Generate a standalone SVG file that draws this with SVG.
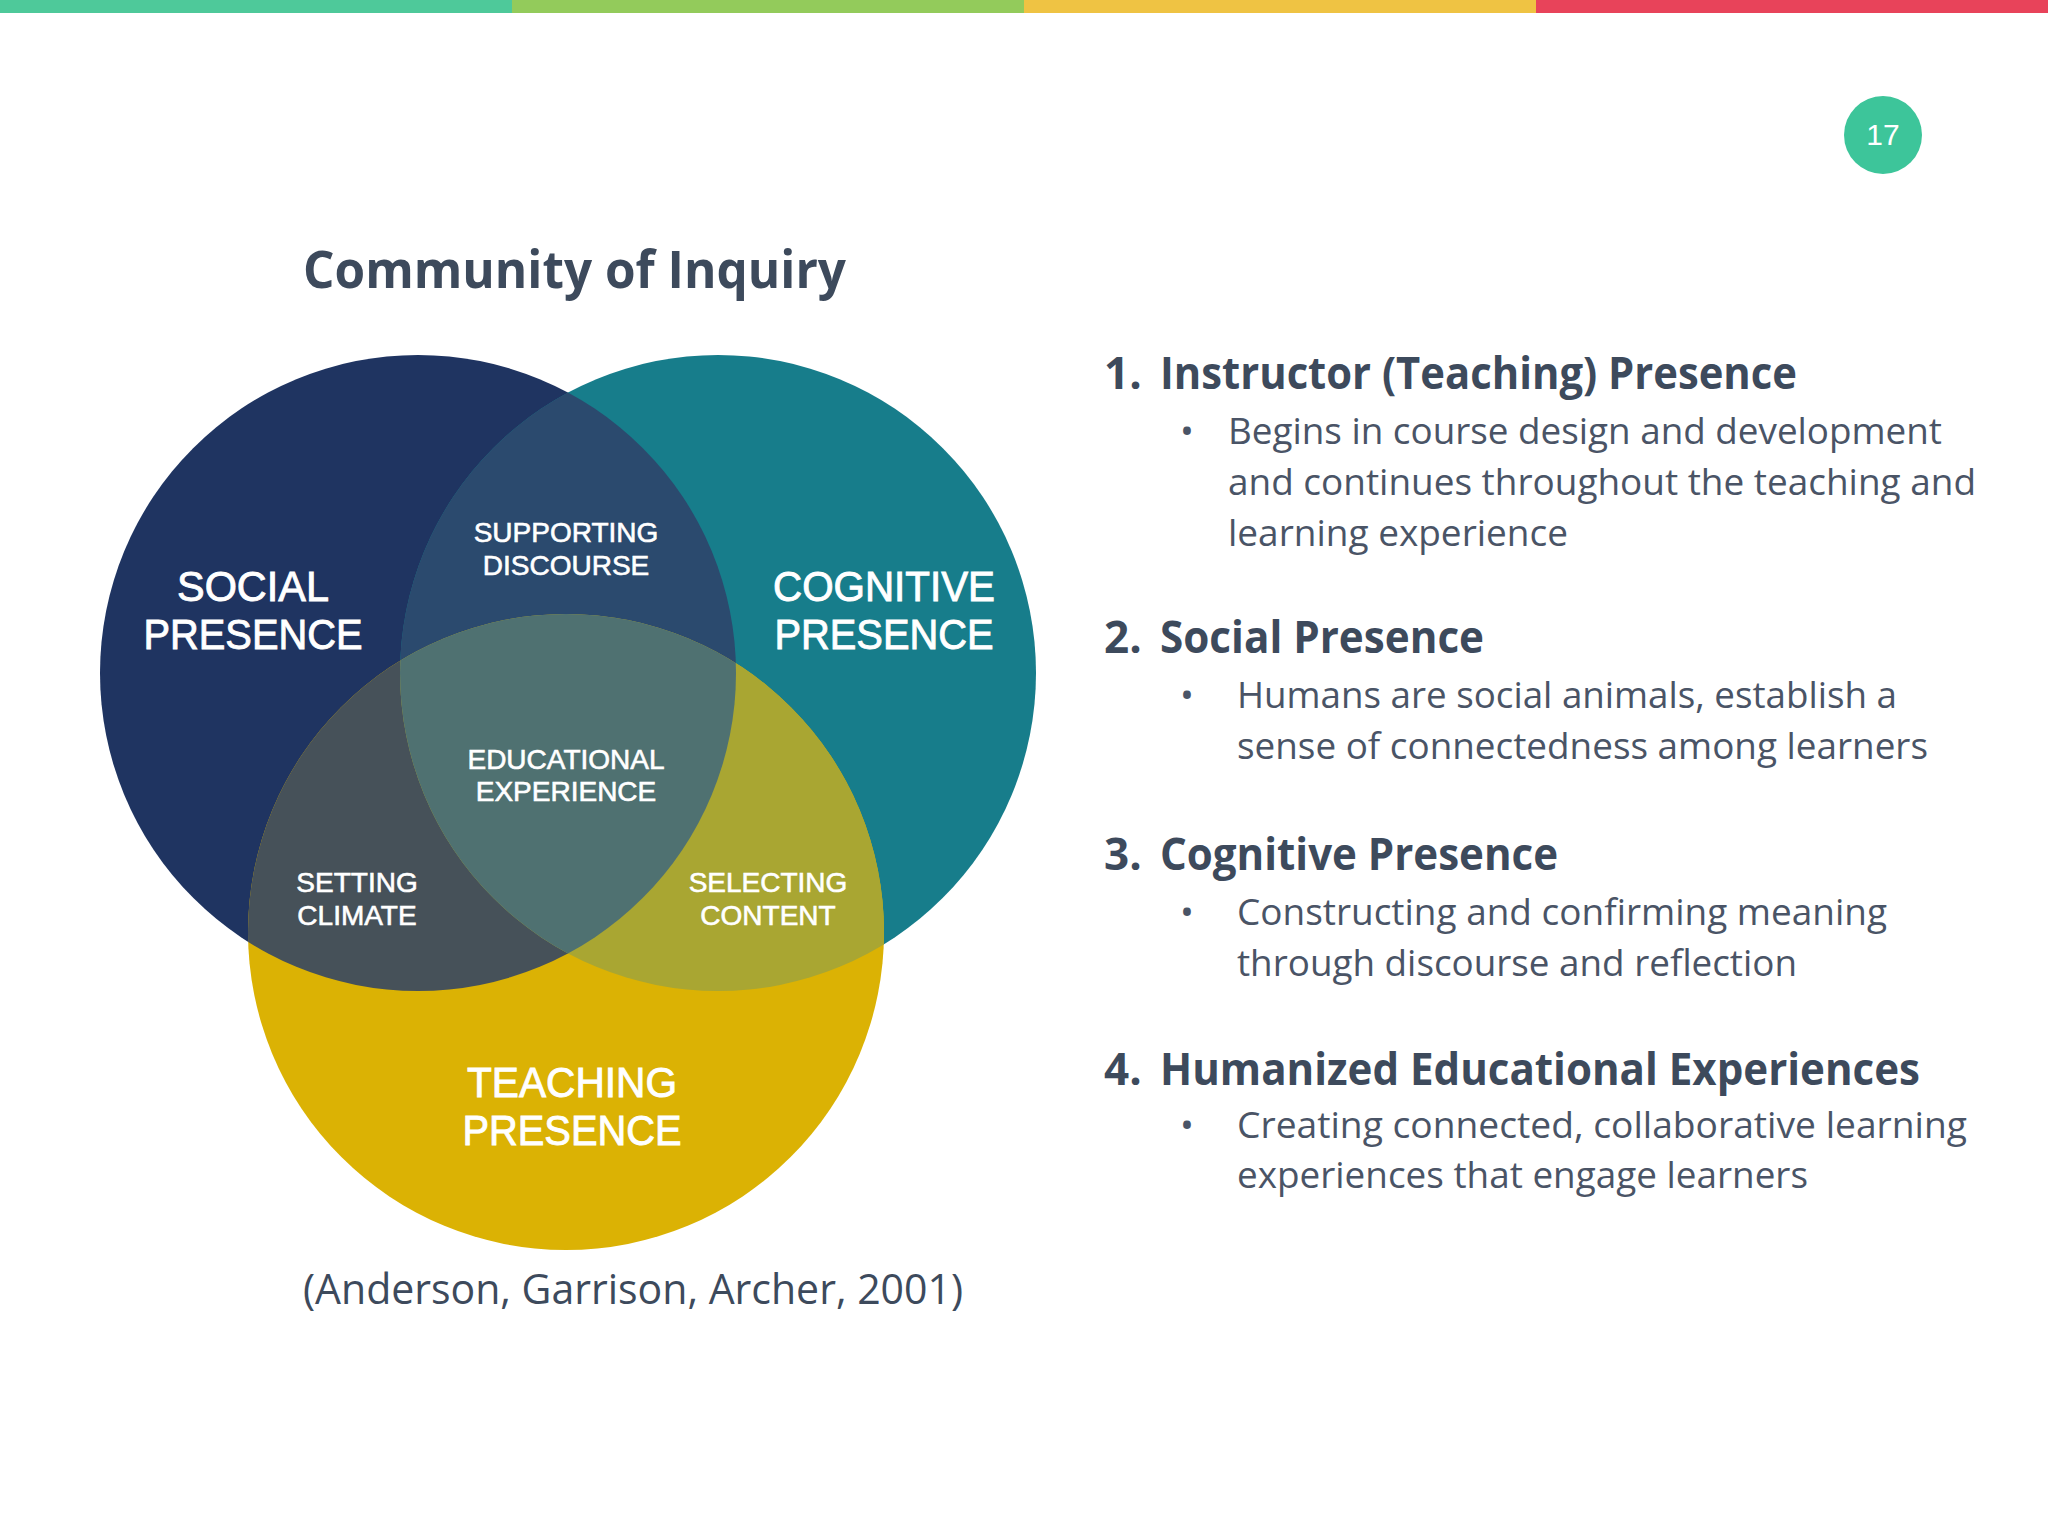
<svg xmlns="http://www.w3.org/2000/svg" width="2048" height="1536" viewBox="0 0 2048 1536">
<style>
.vt{font-family:"Liberation Sans",Arial,sans-serif;fill:#fff;stroke:#fff;text-anchor:middle}
.big{font-size:42px;stroke-width:0.9}
.sm{font-size:28px;stroke-width:0.6}
.h{font-family:"Open Sans","Noto Sans",sans-serif;font-weight:bold;font-size:44px;fill:#3d4a5c}
.b{font-family:"Open Sans","Noto Sans",sans-serif;font-size:37px;fill:#4a5466}
</style>
<defs>
<clipPath id="cS"><circle cx="418" cy="673" r="318"/></clipPath>
<clipPath id="cC"><circle cx="718" cy="673" r="318"/></clipPath>
</defs>
<rect width="2048" height="1536" fill="#fff"/>
<rect x="0" y="0" width="512" height="13" fill="#4ec99a"/>
<rect x="512" y="0" width="512" height="13" fill="#93cb5b"/>
<rect x="1024" y="0" width="512" height="13" fill="#efc343"/>
<rect x="1536" y="0" width="512" height="13" fill="#e8435a"/>
<g id="page"><circle cx="1883" cy="135" r="39" fill="#3dc59a"/>
<text x="1883" y="145" font-family="Liberation Sans,sans-serif" font-size="30" fill="#fff" text-anchor="middle">17</text></g>
<text x="303" y="288" font-family="Open Sans,Noto Sans,sans-serif" font-weight="bold" font-size="52" fill="#3d4a5c" textLength="543" lengthAdjust="spacingAndGlyphs">Community of Inquiry</text>
<g id="venn">
<circle cx="418" cy="673" r="318" fill="#1f3461"/>
<circle cx="718" cy="673" r="318" fill="#177d8b"/>
<circle cx="566" cy="932" r="318" fill="#dbb204"/>
<circle cx="718" cy="673" r="318" fill="#2b4a6e" clip-path="url(#cS)"/>
<circle cx="566" cy="932" r="318" fill="#465159" clip-path="url(#cS)"/>
<circle cx="566" cy="932" r="318" fill="#a9a632" clip-path="url(#cC)"/>
<g clip-path="url(#cS)"><circle cx="566" cy="932" r="318" fill="#4f7171" clip-path="url(#cC)"/></g>
</g>
<g id="labels">
<text class="vt big" x="253" y="601" textLength="152" lengthAdjust="spacingAndGlyphs">SOCIAL</text><text class="vt big" x="253" y="649" textLength="219" lengthAdjust="spacingAndGlyphs">PRESENCE</text>
<text class="vt big" x="884" y="601" textLength="222" lengthAdjust="spacingAndGlyphs">COGNITIVE</text><text class="vt big" x="884" y="649" textLength="219" lengthAdjust="spacingAndGlyphs">PRESENCE</text>
<text class="vt big" x="572" y="1097" textLength="210" lengthAdjust="spacingAndGlyphs">TEACHING</text><text class="vt big" x="572" y="1145" textLength="219" lengthAdjust="spacingAndGlyphs">PRESENCE</text>
<text class="vt sm" x="566" y="542">SUPPORTING</text><text class="vt sm" x="566" y="575">DISCOURSE</text>
<text class="vt sm" x="566" y="769">EDUCATIONAL</text><text class="vt sm" x="566" y="801">EXPERIENCE</text>
<text class="vt sm" x="357" y="892">SETTING</text><text class="vt sm" x="357" y="925">CLIMATE</text>
<text class="vt sm" x="768" y="892">SELECTING</text><text class="vt sm" x="768" y="925">CONTENT</text>
</g>
<text x="303" y="1304" font-family="Open Sans,Noto Sans,sans-serif" font-size="42" fill="#3d4a5c" textLength="660" lengthAdjust="spacingAndGlyphs">(Anderson, Garrison, Archer, 2001)</text>
<g id="list">
<text class="h" x="1104" y="389">1.</text><text class="h" x="1160" y="389" textLength="637" lengthAdjust="spacingAndGlyphs">Instructor (Teaching) Presence</text>
<text class="b" x="1180" y="444">•</text>
<text class="b" x="1228" y="444" textLength="714" lengthAdjust="spacingAndGlyphs">Begins in course design and development</text>
<text class="b" x="1228" y="495" textLength="748" lengthAdjust="spacingAndGlyphs">and continues throughout the teaching and</text>
<text class="b" x="1228" y="546" textLength="340" lengthAdjust="spacingAndGlyphs">learning experience</text>
<text class="h" x="1104" y="653">2.</text><text class="h" x="1160" y="653" textLength="324" lengthAdjust="spacingAndGlyphs">Social Presence</text>
<text class="b" x="1180" y="708">•</text>
<text class="b" x="1237" y="708" textLength="660" lengthAdjust="spacingAndGlyphs">Humans are social animals, establish a</text>
<text class="b" x="1237" y="759" textLength="691" lengthAdjust="spacingAndGlyphs">sense of connectedness among learners</text>
<text class="h" x="1104" y="870">3.</text><text class="h" x="1160" y="870" textLength="398" lengthAdjust="spacingAndGlyphs">Cognitive Presence</text>
<text class="b" x="1180" y="925">•</text>
<text class="b" x="1237" y="925" textLength="650" lengthAdjust="spacingAndGlyphs">Constructing and confirming meaning</text>
<text class="b" x="1237" y="976" textLength="560" lengthAdjust="spacingAndGlyphs">through discourse and reflection</text>
<text class="h" x="1104" y="1085">4.</text><text class="h" x="1160" y="1085" textLength="760" lengthAdjust="spacingAndGlyphs">Humanized Educational Experiences</text>
<text class="b" x="1180" y="1138">•</text>
<text class="b" x="1237" y="1138" textLength="730" lengthAdjust="spacingAndGlyphs">Creating connected, collaborative learning</text>
<text class="b" x="1237" y="1188" textLength="571" lengthAdjust="spacingAndGlyphs">experiences that engage learners</text>
</g>
</svg>
